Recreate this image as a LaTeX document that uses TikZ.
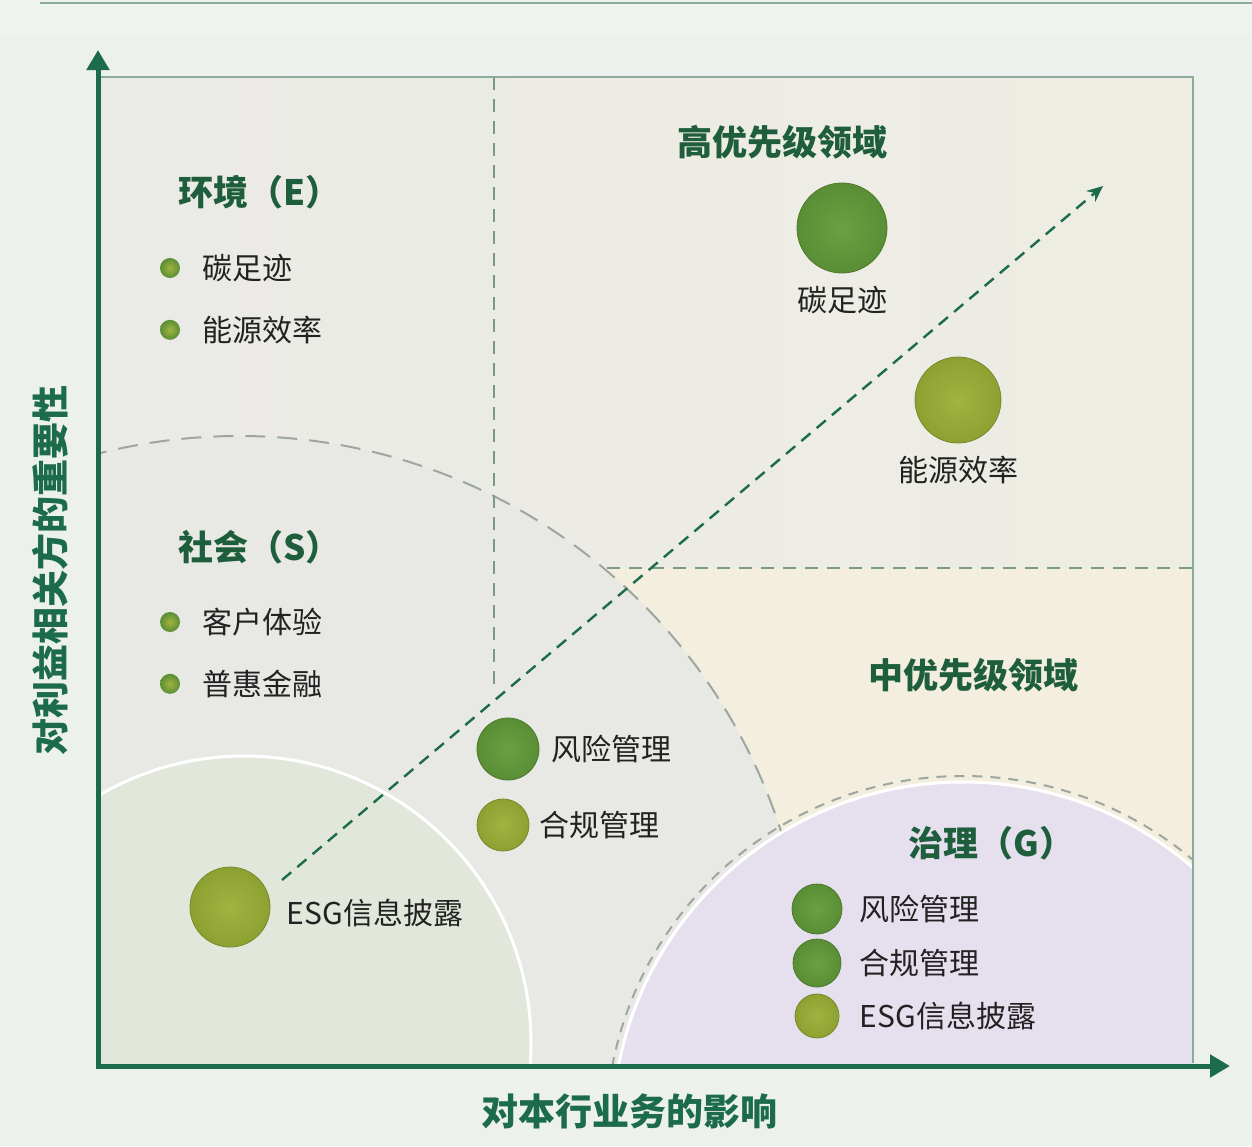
\documentclass[tikz,border=0pt]{standalone}
\usepackage{fontspec}
\setmainfont{Noto Sans CJK SC}
\usetikzlibrary{arrows.meta,positioning}

\definecolor{axisgreen}{HTML}{1C6B4B}
\definecolor{headgreen}{HTML}{1E5E3C}
\definecolor{framegreen}{HTML}{8CAB98}
\definecolor{quaddash}{HTML}{7A9A86}
\definecolor{arcgray}{HTML}{9DA69F}
\definecolor{pagebg}{HTML}{EEF3F0}
\definecolor{panelbg}{HTML}{ECF1EE}
\definecolor{plotleft}{HTML}{EAEAE6}
\definecolor{plotright}{HTML}{EEEDE4}
\definecolor{peach}{HTML}{F3EEDD}
\definecolor{socialfill}{HTML}{E8E9E5}
\definecolor{esgfill}{HTML}{E2E7DC}
\definecolor{govfill}{HTML}{E6DFEE}
\definecolor{bubgreen}{HTML}{5A8E35}
\definecolor{bubgreenlight}{HTML}{6DA043}
\definecolor{bublime}{HTML}{8DA132}
\definecolor{bublimelight}{HTML}{A1B340}
\definecolor{textdark}{HTML}{222222}

\begin{document}
\begin{tikzpicture}[x=0.5pt,y=-0.5pt,
    heading/.style={font=\fontsize{17.5}{21}\selectfont\bfseries,text=headgreen,inner sep=0pt},
    axislabel/.style={font=\fontsize{18.5}{22}\selectfont\bfseries,text=axisgreen,inner sep=0pt},
    item/.style={font=\fontsize{15}{18}\selectfont,text=textdark,inner sep=0pt},
    greenbubble/.style={circle,inner sep=0pt,minimum size=#1,inner color=bubgreenlight,
        outer color=bubgreen,draw=bubgreen!85!black,line width=0.4pt},
    limebubble/.style={circle,inner sep=0pt,minimum size=#1,inner color=bublimelight,
        outer color=bublime,draw=bublime!85!black,line width=0.4pt},
    dot/.style={circle,inner sep=0pt,minimum size=10pt,inner color=bublimelight,
        outer color=bubgreen},
    axis/.style={axisgreen,line width=2.5pt,
        {Triangle[width=11pt,length=10pt]}-{Triangle[width=11pt,length=10pt]}},
    trend/.style={axisgreen,line width=1.2pt,dash pattern=on 6pt off 4pt,
        -{Stealth[length=8pt,width=7pt]}}]

    % background
    \fill[pagebg] (0,0) rectangle (1252,1146);
    \useasboundingbox (0,0) rectangle (1252,1146);
    \fill[panelbg] (0,38) rectangle (1252,1146);
    \draw[framegreen,line width=1pt] (40,3) -- (1252,3);

    % plot area and zones
    \shade[left color=plotleft,right color=plotright] (100,77) rectangle (1193,1063);
    \fill[peach] (494,568) rectangle (1193,1063);
    \begin{scope}
        \clip (100,77) rectangle (1193,1063);
        \fill[socialfill] (239,1005) circle (569);
        \draw[arcgray,line width=1pt,dash pattern=on 10pt off 6pt] (239,1005) circle (569);
        \fill[esgfill] (244,1043) circle (287);
        \draw[white,line width=1.5pt] (244,1043) circle (287);
        \draw[arcgray,line width=1pt,dash pattern=on 5pt off 4pt] (963,1133) circle (357);
        \fill[govfill] (963,1133) circle (351);
        \draw[white,line width=1.5pt] (963,1133) circle (351);
    \end{scope}
    \draw[quaddash,line width=1pt,dash pattern=on 6.5pt off 4.5pt] (494,77) -- (494,690);
    \draw[quaddash,line width=1pt,dash pattern=on 6.5pt off 4.5pt] (607,568) -- (1193,568);
    \draw[framegreen,line width=1pt] (100,77) -- (1193,77) -- (1193,1063);

    % axes
    \coordinate (origin) at (98,1066);
    \coordinate (ytip) at (98,50);
    \coordinate (xtip) at (1230,1066);
    \draw[axis] (ytip) -- (origin) -- (xtip);
    \node[axislabel] (xlabel) at (629,1111) {对本行业务的影响};
    \node[axislabel,rotate=90] (ylabel) at (50,570) {对利益相关方的重要性};

    % trend
    \coordinate (trendfrom) at (282,880);
    \coordinate (trendto) at (1103,186);
    \draw[trend] (trendfrom) -- (trendto);

    % headings
    \node[heading,anchor=west] (envhead) at (178,192) {环境（E）};
    \node[heading,anchor=west] (sochead) at (178,547) {社会（S）};
    \node[heading] (highhead) at (782,142) {高优先级领域};
    \node[heading] (midhead) at (973,675) {中优先级领域};
    \node[heading,anchor=west] (govhead) at (908,843) {治理（G）};

    % legend
    \node[dot] (envdot1) at (170,268) {};
    \node[dot,below=20.5pt of envdot1] (envdot2) {};
    \node[item,right=11pt of envdot1] {碳足迹};
    \node[item,right=11pt of envdot2] {能源效率};
    \node[dot] (socdot1) at (170,622) {};
    \node[dot,below=20.5pt of socdot1] (socdot2) {};
    \node[item,right=11pt of socdot1] {客户体验};
    \node[item,right=11pt of socdot2] {普惠金融};

    % bubbles
    \node[greenbubble=45pt] (carbon) at (842,228) {};
    \node[item,below=6pt of carbon] (carbonlabel) {碳足迹};
    \node[limebubble=43pt] (energy) at (958,400) {};
    \node[item,below=6pt of energy] (energylabel) {能源效率};
    \node[greenbubble=31pt] (risk) at (508,749) {};
    \node[item,right=6pt of risk] (risklabel) {风险管理};
    \node[limebubble=26pt] (comply) at (503,825) {};
    \node[item,right=5pt of comply] (complylabel) {合规管理};
    \node[limebubble=40pt] (esg) at (230,907) {};
    \node[item,right=8pt of esg,yshift=-3pt] (esglabel) {ESG信息披露};

    % governance bubbles
    \node[greenbubble=25pt] (govrisk) at (817,909) {};
    \node[greenbubble=24pt] (govcomply) at (817,963) {};
    \node[limebubble=22pt] (govesg) at (817,1016) {};
    \node[item,right=8.5pt of govrisk] {风险管理};
    \node[item,right=9pt of govcomply] {合规管理};
    \node[item,right=10pt of govesg] {ESG信息披露};
\end{tikzpicture}
\end{document}
